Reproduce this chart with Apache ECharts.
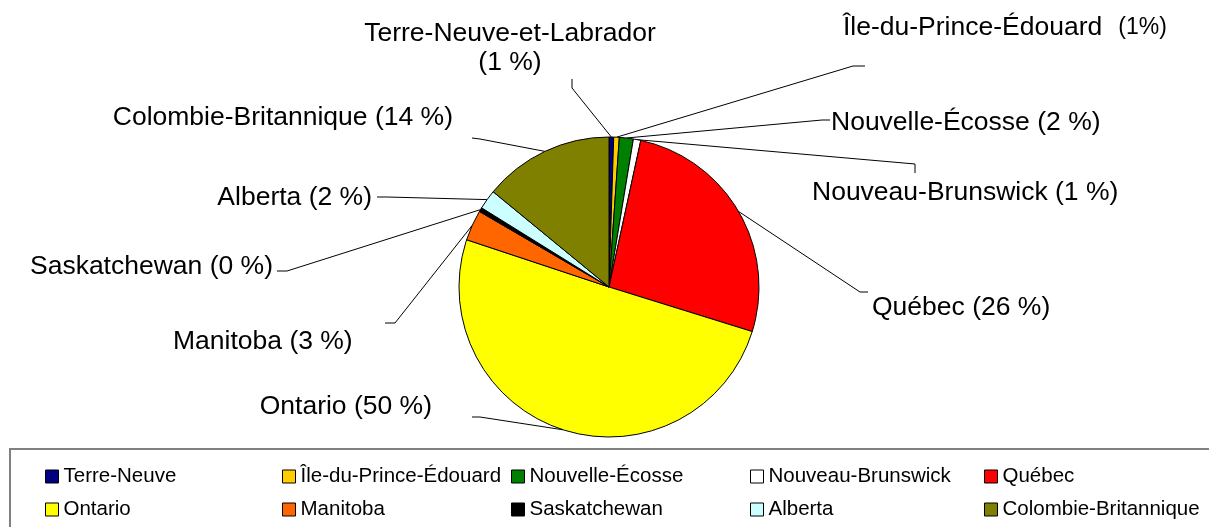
<!DOCTYPE html>
<html>
<head>
<meta charset="utf-8">
<script src="https://cdn.jsdelivr.net/npm/echarts@6/dist/echarts.min.js"></script>
<style>
html, body { margin: 0; padding: 0; background: #fff; }
#chart { width: 1209px; height: 527px; }
</style>
</head>
<body>
<div id="chart"></div>
<script>
var provinces = ['Terre-Neuve', 'Île-du-Prince-Édouard', 'Nouvelle-Écosse', 'Nouveau-Brunswick', 'Québec',
                 'Ontario', 'Manitoba', 'Saskatchewan', 'Alberta', 'Colombie-Britannique'];
var labelNames = ['Terre-Neuve-et-Labrador', 'Île-du-Prince-Édouard', 'Nouvelle-Écosse', 'Nouveau-Brunswick', 'Québec',
                  'Ontario', 'Manitoba', 'Saskatchewan', 'Alberta', 'Colombie-Britannique'];
var shares = [0.5, 0.6, 1.5, 0.8, 26.4, 50.3, 3.3, 0.45, 2.1, 14.05];
var colors = ['#000080', '#FFCC00', '#008000', '#FFFFFF', '#FF0000',
              '#FFFF00', '#FF6600', '#000000', '#CCFFFF', '#808000'];

// label placement and the leader line end (elbow, then end at the text)
var labelPlaces = [
    {x: 510, y: 48,  align: 'center', elbow: [572, 88],  end: [572, 79]},
    {x: 843, y: 28,  align: 'left',   elbow: [853, 66],  end: [865, 66]},
    {x: 831, y: 123, align: 'left',   elbow: [822, 120], end: [830, 120]},
    {x: 812, y: 193, align: 'left',   elbow: [915, 164], end: [915, 173]},
    {x: 872, y: 308, align: 'left',   elbow: [860, 292], end: [868, 292]},
    {x: 432, y: 407, align: 'right',  elbow: [480, 417], end: [472, 417]},
    {x: 173, y: 342, align: 'left',   elbow: [395, 323], end: [385, 323]},
    {x: 273, y: 267, align: 'right',  elbow: [287, 271], end: [277, 271]},
    {x: 372, y: 198, align: 'right',  elbow: [387, 197], end: [377, 197]},
    {x: 453, y: 118, align: 'right',  elbow: [480, 139], end: [472, 138]}
];
var legendCols = [45, 282, 511, 750, 984];

var fontFam = '"Liberation Sans", Arial, sans-serif';

var pieData = provinces.map(function (p, i) {
    return {name: p, value: shares[i], itemStyle: {color: colors[i]}};
});

var legends = legendCols.map(function (x, i) {
    return {
        orient: 'vertical',
        left: x,
        top: 466,
        padding: 0,
        itemGap: 12,
        itemWidth: 13,
        itemHeight: 13,
        icon: 'rect',
        selectedMode: false,
        data: [provinces[i], provinces[i + 5]],
        itemStyle: {borderColor: '#000', borderWidth: 1},
        textStyle: {fontSize: 20.5, color: '#000', fontFamily: fontFam}
    };
});

var chart = echarts.init(document.getElementById('chart'));
chart.setOption({
    animation: false,
    legend: legends,
    graphic: [{
        type: 'rect',
        shape: {x: 10, y: 449, width: 1210, height: 90},
        style: {fill: 'none', stroke: '#808080', lineWidth: 2},
        silent: true
    }],
    series: [{
        type: 'pie',
        center: [609, 287],
        radius: 150,
        startAngle: 90,
        clockwise: true,
        avoidLabelOverlap: false,
        emphasis: {disabled: true},
        itemStyle: {borderColor: '#000', borderWidth: 1},
        label: {
            show: true,
            position: 'outside',
            color: '#000',
            fontSize: 26.5,
            fontFamily: fontFam,
            lineHeight: 29,
            formatter: function (params) {
                var i = params.dataIndex;
                var pct = Math.round(params.value);
                if (i === 0) return labelNames[i] + '\n(' + pct + ' %)';
                if (i === 1) return labelNames[i] + '{s|(' + pct + '%)}';
                return labelNames[i] + ' (' + pct + ' %)';
            },
            rich: {
                s: {fontSize: 23, color: '#000', fontFamily: fontFam, padding: [0, 0, 0, 16]}
            }
        },
        labelLine: {show: true, smooth: false, lineStyle: {color: '#000', width: 1}},
        labelLayout: function (params) {
            var p = labelPlaces[params.dataIndex];
            var start = params.labelLinePoints ? params.labelLinePoints[0] : p.elbow;
            return {
                x: p.x,
                y: p.y,
                align: p.align,
                verticalAlign: 'middle',
                labelLinePoints: [start, p.elbow, p.end]
            };
        },
        data: pieData
    }]
});
</script>
</body>
</html>
